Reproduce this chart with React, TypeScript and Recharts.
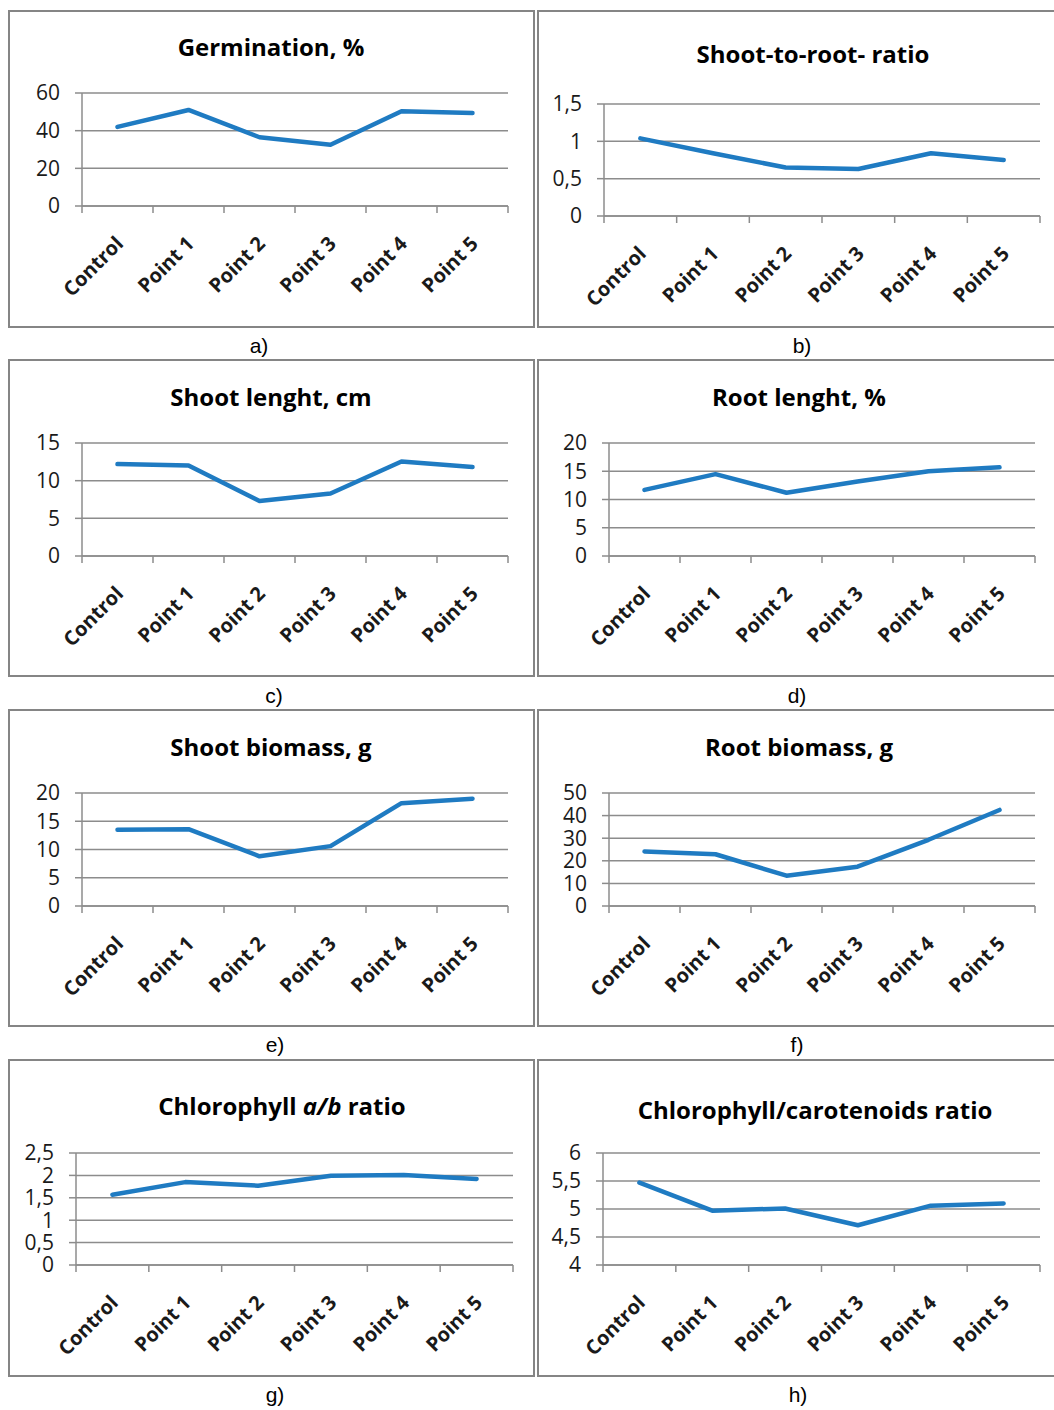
import React, { ReactElement, ReactNode } from 'react';
import { LineChart, Line, XAxis, YAxis, CartesianGrid } from 'recharts';

const categories = ['Control', 'Point 1', 'Point 2', 'Point 3', 'Point 4', 'Point 5'];

const germination = [42, 51, 36.5, 32.5, 50.3, 49.4];
const shootRootRatio = [1.04, 0.84, 0.65, 0.63, 0.84, 0.75];
const shootLength = [12.2, 12.0, 7.3, 8.3, 12.55, 11.8];
const rootLength = [11.7, 14.5, 11.2, 13.2, 15.0, 15.7];
const shootBiomass = [13.5, 13.6, 8.8, 10.6, 18.2, 19.0];
const rootBiomass = [24.1, 22.9, 13.4, 17.4, 29.3, 42.5];
const chlorophyllAB = [1.57, 1.85, 1.77, 1.99, 2.01, 1.92];
const chlorophyllCarotenoids = [5.47, 4.97, 5.01, 4.71, 5.06, 5.1];

const ticksGermination = [0, 20, 40, 60];
const ticksRatio = [0, 0.5, 1, 1.5];
const ticksShootLength = [0, 5, 10, 15];
const ticksTwenty = [0, 5, 10, 15, 20];
const ticksRootBiomass = [0, 10, 20, 30, 40, 50];
const ticksAB = [0, 0.5, 1, 1.5, 2, 2.5];
const ticksCarotenoids = [4, 4.5, 5, 5.5, 6];

const LINE = '#1f7bc2';
const GRID = '#8c8c8c';
const FONT = '"Open Sans", sans-serif';

// boundary ticks (0..6) get a tick mark, half ticks (0.5..5.5) get the category label
const xTicks = categories.flatMap((_, i) => [i, i + 0.5]).concat(categories.length);

const fmt = (v: number) => String(v).replace('.', ',');

const CatTick = (props: any) => {
  const { x, y, payload } = props;
  const v = payload.value;
  if (Number.isInteger(v)) {
    return <line x1={x} y1={y} x2={x} y2={y + 7} stroke={GRID} strokeWidth={1.5} />;
  }
  return (
    <g transform={`translate(${x + 2},${y + 34})`}>
      <text textAnchor="end" dy="0.35em" transform="rotate(-45)" fontSize={20} fontWeight={700} fontFamily={FONT} fill="#1a1a1a">
        {categories[Math.floor(v)]}
      </text>
    </g>
  );
};

interface PanelProps {
  box: [number, number, number, number];
  plot: [number, number, number, number];
  title: ReactNode;
  titleAt: [number, number];
  label: string;
  labelAt: [number, number];
  values: number[];
  ticks: number[];
}

function Panel({ box, plot, title, titleAt, label, labelAt, values, ticks }: PanelProps): ReactElement {
  const [bx, by, bw, bh] = box;
  const [x0, y0, x1, y1] = plot;
  const data = values.map((v, i) => ({ x: i + 0.5, v }));
  return (
    <>
      <div style={{ position: 'absolute', left: bx, top: by, width: bw, height: bh, border: '2px solid #858585', boxSizing: 'border-box' }} />
      <div style={{ position: 'absolute', left: bx, top: by }}>
        <LineChart width={bw} height={bh} data={data} margin={{ top: y0 - by, right: bx + bw - x1, bottom: 0, left: 0 }}>
          <CartesianGrid vertical={false} stroke={GRID} strokeWidth={1.5} />
          <XAxis
            dataKey="x"
            type="number"
            domain={[0, categories.length]}
            ticks={xTicks}
            interval={0}
            height={by + bh - y1}
            tickSize={0}
            tickMargin={0}
            axisLine={{ stroke: GRID, strokeWidth: 1.5 }}
            tickLine={false}
            tick={CatTick}
          />
          <YAxis
            width={x0 - bx}
            domain={[ticks[0], ticks[ticks.length - 1]]}
            ticks={ticks}
            interval={0}
            tickFormatter={fmt}
            tickSize={7}
            tickMargin={15}
            axisLine={{ stroke: GRID, strokeWidth: 1.5 }}
            tickLine={{ stroke: GRID, strokeWidth: 1.5 }}
            tick={{ fontSize: 21, fill: '#1a1a1a', fontFamily: FONT }}
          />
          <Line
            type="linear"
            dataKey="v"
            stroke={LINE}
            strokeWidth={4.5}
            strokeLinecap="round"
            strokeLinejoin="round"
            dot={false}
            activeDot={false}
            isAnimationActive={false}
          />
        </LineChart>
      </div>
      <div style={{ position: 'absolute', left: titleAt[0], top: titleAt[1], transform: 'translate(-50%, -50%)', whiteSpace: 'nowrap', fontFamily: FONT, fontWeight: 700, fontSize: 24, color: '#000' }}>
        {title}
      </div>
      <div style={{ position: 'absolute', left: labelAt[0], top: labelAt[1], transform: 'translate(-50%, -50%)', fontFamily: '"Liberation Sans", Arial, sans-serif', fontSize: 21, color: '#000' }}>
        {label}
      </div>
    </>
  );
}

const LX = 8;
const LW = 527;
const RX = 537;
const RW = 525;
const PH = 318;

export default function App(): ReactElement {
  return (
    <div style={{ position: 'absolute', left: 0, top: 0, width: 1054, height: 1410, overflow: 'hidden', background: '#fff' }}>
      <Panel box={[LX, 10, LW, PH]} plot={[82, 93, 508, 206]} title="Germination, %" titleAt={[271, 46]} label="a)" labelAt={[259, 346]} values={germination} ticks={ticksGermination} />
      <Panel box={[RX, 10, RW, PH]} plot={[604, 104, 1040, 216]} title="Shoot-to-root- ratio" titleAt={[813, 53]} label="b)" labelAt={[802, 346]} values={shootRootRatio} ticks={ticksRatio} />
      <Panel box={[LX, 359, LW, PH]} plot={[82, 443, 508, 556]} title="Shoot lenght, cm" titleAt={[271, 396]} label="c)" labelAt={[274, 696]} values={shootLength} ticks={ticksShootLength} />
      <Panel box={[RX, 359, RW, PH]} plot={[609, 443, 1035, 556]} title="Root lenght, %" titleAt={[799, 396]} label="d)" labelAt={[797, 696]} values={rootLength} ticks={ticksTwenty} />
      <Panel box={[LX, 709, LW, PH]} plot={[82, 793, 508, 906]} title="Shoot biomass, g" titleAt={[271, 746]} label="e)" labelAt={[275, 1045]} values={shootBiomass} ticks={ticksTwenty} />
      <Panel box={[RX, 709, RW, PH]} plot={[609, 793, 1035, 906]} title="Root biomass, g" titleAt={[799, 746]} label="f)" labelAt={[797, 1045]} values={rootBiomass} ticks={ticksRootBiomass} />
      <Panel box={[LX, 1059, LW, PH]} plot={[76, 1153, 513, 1265]} title={<>Chlorophyll <i>a/b</i> ratio</>} titleAt={[282, 1105]} label="g)" labelAt={[275, 1395]} values={chlorophyllAB} ticks={ticksAB} />
      <Panel box={[RX, 1059, RW, PH]} plot={[603, 1153, 1040, 1265]} title="Chlorophyll/carotenoids ratio" titleAt={[815, 1109]} label="h)" labelAt={[798, 1395]} values={chlorophyllCarotenoids} ticks={ticksCarotenoids} />
    </div>
  );
}
